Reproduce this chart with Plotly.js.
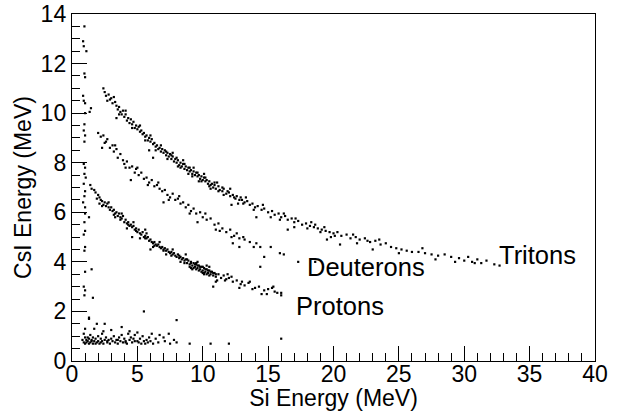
<!DOCTYPE html>
<html>
<head>
<meta charset="utf-8">
<script src="https://cdn.plot.ly/plotly-3.0.1.min.js"></script>
<style>html,body{margin:0;padding:0;background:#fff;}#chart{width:618px;height:411px;}</style>
</head>
<body>
<div id="chart"></div>
<script>
// Tritons band (Si energy MeV, CsI energy MeV)
const tritonsX = [2.4,2.5,2.6,2.8,2.9,3.0,3.1,3.3,3.4,3.5,3.6,3.7,3.8,3.9,4.0,4.1,4.2,4.3,4.4,4.5,4.6,4.7,4.8,4.9,5.0,5.1,5.2,5.3,5.4,5.5,5.6,5.7,5.8,5.9,6.0,6.1,6.2,6.3,6.4,6.5,6.6,6.7,6.8,6.9,7.0,7.1,7.2,7.3,7.4,7.5,7.6,7.7,7.8,7.9,8.0,8.1,8.2,8.3,8.4,8.5,8.6,8.7,8.8,8.9,9.0,9.1,9.2,9.3,9.4,9.5,9.6,9.7,9.8,9.9,10.0,10.1,10.2,10.3,10.4,10.5,10.6,10.7,10.8,10.9,11.0,11.2,11.3,11.5,11.6,11.8,12.0,12.1,12.3,12.5,12.6,12.8,13.0,13.2,13.4,13.6,13.8,14.0,14.2,14.5,14.7,15.0,15.3,15.5,15.8,16.0,16.3,16.5,16.8,17.0,17.3,17.6,17.9,18.2,18.5,18.8,19.1,19.4,19.7,20.0,20.3,20.6,21.0,21.3,21.7,22.0,22.4,22.8,23.2,23.6,24.0,24.4,24.8,25.2,25.6,26.0,26.5,27.0,27.5,28.0,28.5,29.0,29.6,30.0,30.3,30.6,31.0,31.3,31.7,32.3,32.7,
  7.2,7.6,8.0,8.3,8.6,9.0,9.2,9.6,9.9,10.2,10.5,10.9,11.2,11.5,11.9,12.4,12.9,13.1,15.9,16.2,17.1,18.0,18.6,19.0,19.3,20.1,21.5,22.6,
  3.4,5.9,6.2,12.2,14.1,16.5,19.5,20.5,23.0,27.8,30.8,
  2.7,3.2,3.6,4.1,4.6,5.2,5.6,6.0,6.4,6.8,7.3,7.7,8.1,8.5,8.9,9.3,9.7,10.1,10.6,11.1,11.6,12.1,12.7,13.3,13.9,14.6,15.2,17.0,18.3,19.8,21.8,23.5,25.0,26.8,29.3];
const tritonsY = [11.0,10.85,10.7,10.75,10.55,10.6,10.4,10.45,10.3,10.15,10.25,10.05,9.95,10.1,9.85,9.95,9.7,9.8,9.6,9.75,9.55,9.65,9.4,9.5,9.35,9.45,9.25,9.3,9.15,9.2,9.05,9.1,8.9,9.0,8.85,8.95,8.75,8.8,8.65,8.7,8.55,8.6,8.45,8.55,8.4,8.5,8.3,8.4,8.25,8.35,8.15,8.25,8.05,8.15,8.0,8.1,7.9,8.0,7.85,7.95,7.75,7.85,7.7,7.8,7.65,7.7,7.55,7.65,7.5,7.6,7.45,7.5,7.35,7.45,7.3,7.4,7.25,7.3,7.15,7.25,7.1,7.15,7.0,7.1,6.95,7.05,6.9,6.85,6.95,6.75,6.8,6.65,6.7,6.55,6.65,6.5,6.5,6.4,6.45,6.3,6.35,6.2,6.25,6.1,6.15,6.0,6.05,5.9,5.95,5.8,5.85,5.7,5.75,5.6,5.65,5.5,5.55,5.45,5.4,5.35,5.3,5.25,5.2,5.15,5.2,5.05,5.1,4.95,5.0,4.9,4.95,4.8,4.85,4.7,4.75,4.6,4.55,4.5,4.45,4.4,4.4,4.35,4.3,4.25,4.3,4.2,4.15,4.05,4.2,4.0,4.1,3.95,4.05,3.9,3.85,
  8.45,8.3,8.2,7.8,7.95,7.8,7.45,7.6,7.25,7.4,7.05,7.2,6.85,7.0,6.85,6.6,6.6,6.35,5.7,5.95,5.75,5.35,5.5,5.2,5.4,5.05,5.1,4.85,
  9.8,8.5,8.2,6.3,5.8,5.3,4.9,4.7,4.5,4.1,3.95,
  10.5,10.65,9.95,10.1,9.4,9.5,8.9,9.1,8.5,8.7,8.15,8.4,7.85,8.1,7.55,7.8,7.25,7.55,6.95,7.2,6.7,6.95,6.35,6.6,6.1,6.3,5.8,5.4,5.6,5.0,4.75,4.9,4.35,4.55,4.0];

// Deuterons band
const deuteronsX = [2.0,2.2,2.4,2.6,2.7,2.9,3.1,3.2,3.4,3.5,3.7,3.9,4.0,4.2,4.4,4.6,4.8,4.9,5.1,5.3,5.5,5.7,5.9,6.1,6.3,6.5,6.7,6.9,7.1,7.3,7.5,7.7,7.9,8.1,8.3,8.5,8.7,8.9,9.1,9.3,9.5,9.8,10.0,10.3,10.6,10.9,11.2,11.5,11.8,12.1,12.4,12.8,13.2,13.6,14.1,14.4,14.7,15.2,15.9,16.2,17.3,18.6,
  4.5,7.0,9.6,11.0,12.3,2.3,12.2,12.6,13.1,12.8,13.9,14.4,
  2.5,3.3,4.1,5.0,5.8,6.6,7.4,8.2,9.0,10.2,11.3];
const deuteronsY = [9.2,9.05,9.1,8.85,8.95,8.6,8.7,8.45,8.55,8.2,8.35,8.1,7.95,8.05,7.8,7.85,7.6,7.75,7.5,7.6,7.35,7.4,7.2,7.3,7.05,7.1,6.95,6.85,6.9,6.7,6.6,6.75,6.5,6.55,6.35,6.4,6.2,6.3,6.05,6.15,5.95,6.0,5.8,5.7,5.75,5.5,5.55,5.35,5.2,5.3,5.05,4.95,4.9,4.8,4.75,3.8,4.2,4.6,4.35,4.3,4.0,4.0,
  7.3,6.4,5.6,5.3,4.75,8.6,5.0,5.15,5.0,4.6,4.6,4.6,
  8.8,8.7,7.8,7.8,7.1,7.2,6.5,6.65,5.95,5.95,5.25];

// Protons band
const protonsX = [1.4,1.5,1.7,1.8,1.9,2.0,2.1,2.1,2.2,2.3,2.4,2.5,2.6,2.7,2.8,2.9,3.0,3.1,3.2,3.3,3.4,3.5,3.6,3.7,3.8,3.9,4.0,4.1,4.2,4.3,4.4,4.5,4.6,4.7,4.8,4.9,5.0,5.1,5.2,5.3,5.4,5.5,5.6,5.7,5.8,5.9,6.0,6.1,6.2,6.3,6.4,6.5,6.6,6.7,6.8,6.9,7.0,7.1,7.2,7.3,7.4,7.5,7.6,7.7,7.8,7.9,8.0,8.1,8.2,8.3,8.4,8.5,8.6,8.7,8.8,8.9,9.0,9.1,9.2,9.3,9.4,9.5,9.6,9.7,9.8,9.9,10.0,10.1,10.2,10.3,10.4,10.5,10.6,10.7,10.8,10.9,11.0,11.2,11.4,11.6,11.8,12.0,12.3,12.6,12.9,13.2,13.5,14.0,14.3,14.7,15.0,15.5,15.7,16.0,
  8.6,8.8,9.0,9.1,9.3,9.4,9.5,9.6,9.7,9.8,9.9,10.0,10.1,10.2,10.3,10.4,10.5,10.6,10.8,11.0,9.2,9.5,10.0,10.3,8.2,7.6,7.0,6.3,5.6,4.9,4.3,3.7,3.2,12.2,11.7,13.0,13.8,14.9,15.3,
  4.6,6.0,10.8,11.0,16.0,5.6,
  2.3,2.8,3.3,3.8,4.2,4.7,5.2,5.7,6.2,6.7,7.2,7.7,8.3,8.7,9.1,9.6,10.1,10.5,11.1,11.9,12.8,13.6,14.5,15.4];
const protonsY = [7.1,6.95,6.9,6.8,6.55,6.7,6.6,6.35,6.5,6.45,6.3,6.4,6.25,6.35,6.2,6.1,6.2,6.05,6.1,5.95,6.0,5.85,5.95,5.8,5.75,5.85,5.6,5.7,5.55,5.6,5.45,5.5,5.4,5.45,5.3,5.35,5.2,5.3,5.15,5.1,5.2,5.0,5.05,4.95,5.0,4.85,4.9,4.8,4.75,4.8,4.7,4.65,4.7,4.6,4.55,4.6,4.5,4.55,4.45,4.5,4.4,4.35,4.4,4.3,4.35,4.25,4.2,4.3,4.15,4.2,4.1,4.15,4.05,4.1,3.95,4.05,3.9,4.0,3.85,3.95,3.8,3.9,3.75,3.85,3.7,3.8,3.65,3.75,3.6,3.7,3.55,3.65,3.5,3.6,3.45,3.55,3.4,3.5,3.35,3.45,3.3,3.35,3.2,3.25,3.1,3.05,3.15,2.95,3.0,2.85,2.9,2.8,2.75,2.75,
  3.95,4.1,3.8,3.95,3.75,3.9,3.7,3.85,3.65,3.8,3.6,3.8,3.55,3.7,3.5,3.65,3.45,3.6,3.55,3.5,3.7,3.95,3.55,3.85,4.25,4.25,4.45,4.65,4.95,5.25,5.5,5.7,5.9,3.4,3.25,3.2,2.9,2.7,2.95,
  5.0,4.5,3.0,3.2,2.65,5.3,
  6.25,6.4,5.8,5.95,5.35,5.6,4.95,5.15,4.6,4.8,4.3,4.5,4.0,4.3,3.75,4.0,3.5,3.8,3.25,3.5,2.95,3.2,2.7,3.0];

// Vertical band near the Si threshold
const punchX = [0.95,0.85,0.9,1.1,0.95,1.0,0.85,0.9,1.0,1.0,1.35,1.45,0.95,0.9,1.0,0.95,0.9,1.0,0.95,1.05,0.9,1.0,0.95,0.85,1.0,1.0,1.3,0.95,1.0,0.9,1.0,0.95,1.0,1.5,0.9,1.0,0.95,1.6,1.3,1.0,0.9];
const punchY = [13.5,12.9,12.7,12.5,11.6,11.45,10.7,10.5,10.4,10.0,10.05,10.2,9.55,9.3,9.1,8.85,7.95,7.8,7.55,7.4,7.15,6.85,6.65,6.4,6.2,5.95,5.8,5.6,5.25,5.1,4.6,4.45,3.6,3.7,3.0,2.85,2.65,2.55,1.75,1.3,1.1];

// Low-energy cluster
const lowX = [0.8,0.9,1.0,1.0,1.1,1.2,1.2,1.3,1.3,1.4,1.4,1.5,1.6,1.6,1.7,1.8,1.8,1.9,2.0,2.0,2.1,2.2,2.3,2.3,2.4,2.5,2.6,2.7,2.8,2.9,3.0,3.1,3.2,3.3,3.4,3.5,3.6,3.7,3.8,3.9,4.0,4.1,4.2,4.3,4.4,4.5,4.6,4.7,4.8,5.0,5.1,5.2,5.3,5.4,5.5,5.6,5.7,5.8,5.9,6.0,6.2,6.4,6.6,7.0,7.1,7.5,7.8,8.0,9.0,10.6,12.0,16.0,
  1.3,1.9,2.5,3.8,5.5,8.0,4.4,3.0,1.7,6.7,2.4,4.8,6.1,7.4,1.1,1.5,2.2,2.7,3.5,4.1,5.0];
const lowY = [0.85,0.75,0.95,0.7,0.85,0.8,0.95,0.7,0.9,0.75,1.05,0.85,0.7,0.95,0.8,0.9,0.7,0.75,1.0,0.8,0.7,0.9,0.8,1.1,0.7,0.85,0.95,0.75,0.85,0.7,0.9,0.8,1.0,0.75,0.85,0.7,0.95,0.8,1.05,0.75,0.9,0.8,0.7,1.1,0.85,0.95,0.75,0.9,0.8,1.15,0.75,0.9,0.7,1.0,0.8,0.7,0.85,0.75,0.95,0.8,0.7,0.9,0.75,0.95,0.8,0.7,0.85,0.75,0.7,0.7,0.7,0.9,
  1.7,1.5,1.5,1.37,2.0,1.65,1.2,1.25,1.3,1.05,1.2,1.05,1.1,1.1,0.75,0.8,0.75,0.8,0.85,0.75,0.8];

const particleLabels = ["Tritons", "Deuterons", "Protons"];
const labelX = [35.6, 22.5, 20.5];
const labelY = [4.28, 3.8, 2.22];

const xTickVals = [0,5,10,15,20,25,30,35,40];
const yTickVals = [0,2,4,6,8,10,12,14];

const FONT = "Liberation Sans, Arial, Helvetica, sans-serif";
const mk = {color: "#000", size: 2.2, symbol: "square", line: {width: 0}};
function tr(x, y) { return {x: x, y: y, type: "scatter", mode: "markers", marker: mk, hoverinfo: "skip", showlegend: false}; }

const data = [tr(tritonsX, tritonsY), tr(deuteronsX, deuteronsY), tr(protonsX, protonsY), tr(punchX, punchY), tr(lowX, lowY)];

const annotations = particleLabels.map((t, i) => ({
  x: labelX[i], y: labelY[i], xref: "x", yref: "y", text: t, showarrow: false,
  font: {family: FONT, size: 25.5, color: "#000"}, xanchor: "center", yanchor: "middle"
}));

const axisCommon = {
  showgrid: false, zeroline: false, showline: true, mirror: true,
  linecolor: "#000", linewidth: 1.2, ticks: "inside", tickcolor: "#000", tickwidth: 1,
  tickfont: {family: FONT, size: 23, color: "#000"}, automargin: false
};

const layout = {
  width: 618, height: 411,
  margin: {l: 72, r: 23, t: 14, b: 50},
  paper_bgcolor: "#fff", plot_bgcolor: "#fff",
  showlegend: false,
  xaxis: Object.assign({}, axisCommon, {
    range: [0, 40], tickvals: xTickVals, ticktext: xTickVals.map(String), ticklen: 15,
    ticklabelstandoff: -8,
    minor: {dtick: 1, ticks: "inside", ticklen: 8, tickcolor: "#000", tickwidth: 1, showgrid: false},
    title: {text: "Si Energy (MeV)", font: {family: FONT, size: 23, color: "#000"}, standoff: 3}
  }),
  yaxis: Object.assign({}, axisCommon, {
    range: [0, 14], tickvals: yTickVals, ticktext: yTickVals.map(String), ticklen: 15,
    minor: {dtick: 0.5, ticks: "inside", ticklen: 8, tickcolor: "#000", tickwidth: 1, showgrid: false},
    title: {text: "CsI Energy (MeV)", font: {family: FONT, size: 23, color: "#000"}, standoff: 2}
  }),
  annotations: annotations
};

Plotly.newPlot("chart", data, layout, {staticPlot: true, displayModeBar: false});
</script>
</body>
</html>
